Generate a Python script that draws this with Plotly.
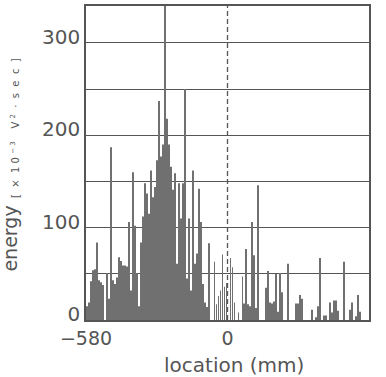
import numpy as np
import plotly.graph_objects as go

# ---- data ----
x_min, x_max = -580, 580
n_bins = 142
bin_width = (x_max - x_min) / n_bins
location_mm = [x_min + (i + 0.5) * bin_width for i in range(n_bins)]

energy = [
    15, 19, 42, 54, 55, 84, 43, 41, 38, 0,
    51, 23, 187, 43, 39, 46, 68, 64, 59, 59,
    58, 106, 32, 160, 102, 51, 15, 84, 112, 148,
    137, 115, 162, 133, 144, 173, 237, 177, 190, 360,
    218, 190, 166, 141, 159, 61, 148, 110, 148, 250,
    45, 110, 32, 162, 61, 72, 142, 106, 39, 19,
    14, 83, 0, 0, 63, 17, 26, 32, 71, 36,
    40, 0, 67, 57, 19, 0, 8, 0, 47, 18,
    77, 17, 15, 106, 70, 13, 146, 0, 0, 0,
    35, 53, 19, 18, 20, 50, 9, 51, 30, 0,
    0, 61, 0, 0, 0, 18, 18, 27, 23, 0,
    0, 0, 0, 11, 0, 3, 15, 67, 0, 5,
    5, 0, 19, 8, 21, 21, 10, 0, 0, 63,
    0, 0, 11, 19, 0, 4, 27, 9, 0, 0,
    0, 0,
]

x_tick_vals = [-580, 0, 580]
x_tick_text = ["\u2212580", "0", "580"]
y_grid_vals = [0, 50, 100, 150, 200, 250, 300]
y_tick_text = ["0", "", "100", "", "200", "", "300"]
y_max = 340
ref_location = 0

gray = "#555555"
font_family = "DejaVu Sans"

fig = go.Figure()
fig.add_trace(go.Bar(
    x=location_mm, y=energy,
    marker=dict(color="#707070", line=dict(width=0)),
    width=bin_width * 0.45,
    hoverinfo="skip",
))

fig.add_shape(type="line", xref="x", yref="paper",
              x0=ref_location, x1=ref_location, y0=0, y1=1,
              line=dict(color=gray, width=1.3, dash="5px,3px"))

fig.update_layout(
    width=386, height=377,
    margin=dict(l=86, r=17, t=6, b=57, autoexpand=False),
    paper_bgcolor="white", plot_bgcolor="white",
    showlegend=False,
    font=dict(family=font_family, color=gray, size=20),
    bargap=0.5,
)
fig.update_xaxes(
    range=[x_min, x_max], tickvals=x_tick_vals, ticktext=x_tick_text,
    showgrid=False, zeroline=False, ticks="", automargin=False,
    showline=True, linecolor=gray, linewidth=1.5, mirror=True,
    tickfont=dict(size=19, color=gray, family=font_family),
)
fig.update_yaxes(
    range=[0, y_max], tickvals=y_grid_vals, ticktext=y_tick_text,
    showgrid=True, gridcolor=gray, gridwidth=1.3, zeroline=False, ticks="",
    automargin=False, ticklabelshift=-6,
    showline=True, linecolor=gray, linewidth=1.5, mirror=True,
    tickfont=dict(size=20, color=gray, family=font_family),
)

fig.add_annotation(text="energy", textangle=-90, showarrow=False,
                   xref="paper", yref="paper", x=-0.27, y=0.258,
                   xanchor="center", yanchor="middle",
                   font=dict(size=19, color=gray, family=font_family))
fig.add_annotation(text="[  \u00d7  1 0 <sup>\u2212 3</sup>    V <sup>2</sup>  \u00b7  s  e  c  ]",
                   textangle=-90, showarrow=False,
                   xref="paper", yref="paper", x=-0.253, y=0.613,
                   xanchor="center", yanchor="middle",
                   font=dict(size=10, color=gray, family=font_family))
fig.add_annotation(text="location (mm)", showarrow=False,
                   xref="paper", yref="paper", x=0.523, y=-0.143,
                   xanchor="center", yanchor="middle",
                   font=dict(size=20, color=gray, family=font_family))

fig.write_html("out.html",
               config={"displayModeBar": False},
               post_script="document.body.style.margin='0';document.body.style.overflow='hidden';")
